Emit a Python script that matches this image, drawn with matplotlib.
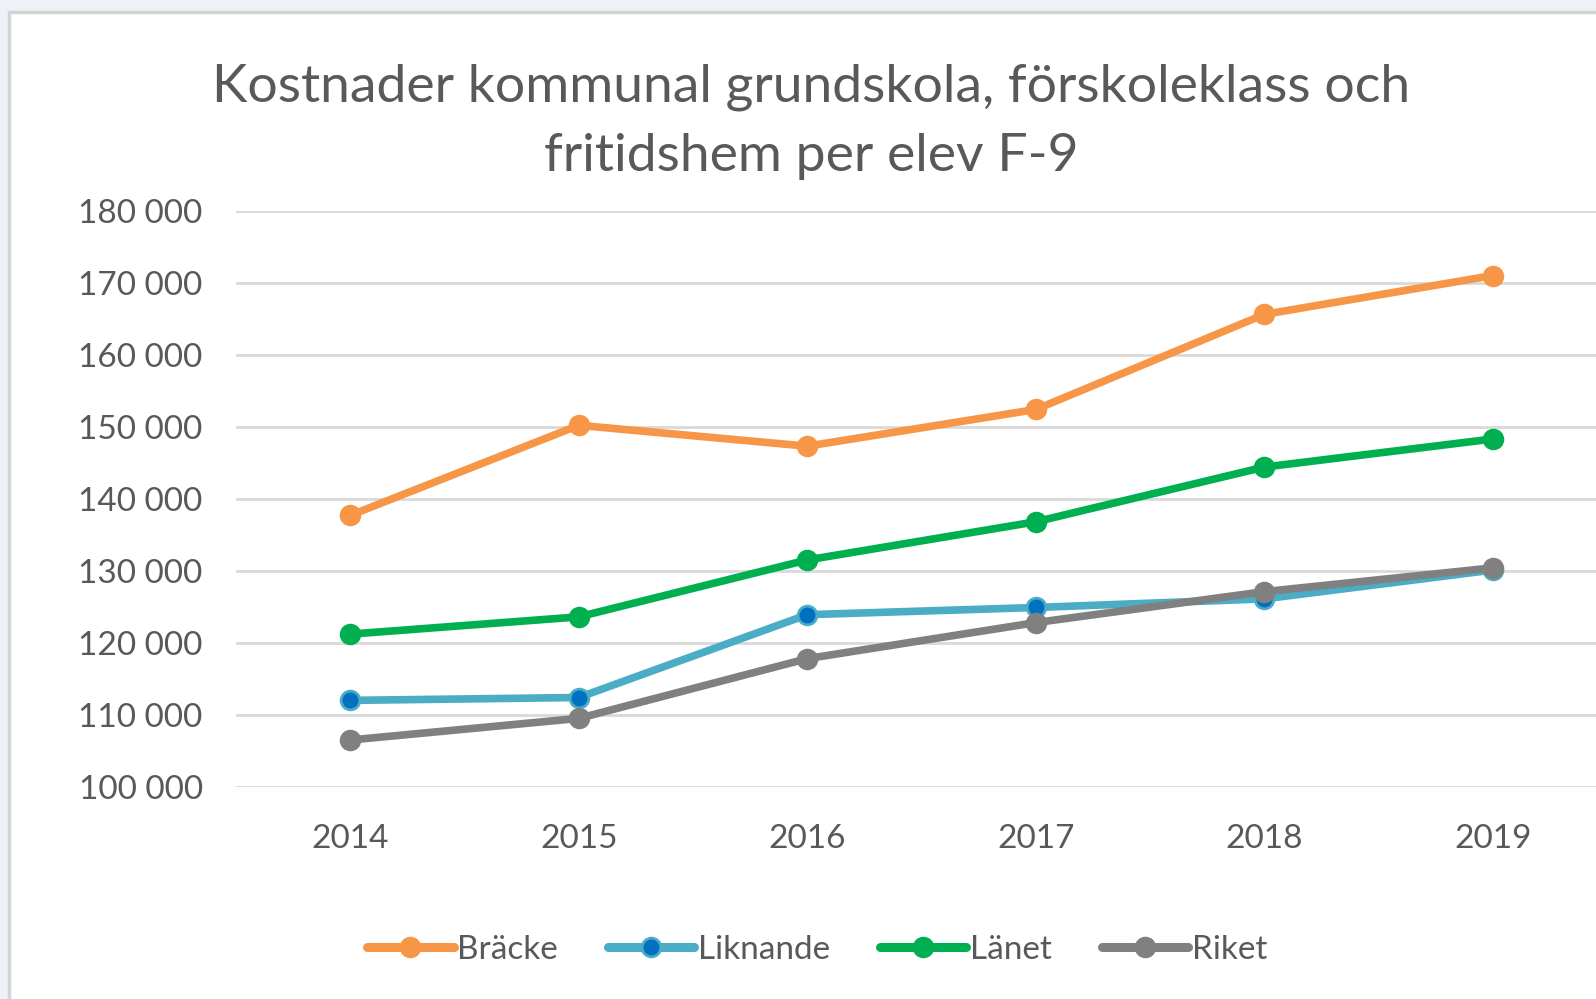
import matplotlib
matplotlib.use("Agg")
import matplotlib.pyplot as plt
from matplotlib.patches import Rectangle

years = ["2014", "2015", "2016", "2017", "2018", "2019"]
bracke = [137700, 150200, 147300, 152400, 165600, 171000]
liknande = [112000, 112400, 123900, 124900, 126100, 130100]
lanet = [121200, 123600, 131500, 136800, 144400, 148300]
riket = [106500, 109500, 117800, 122800, 127100, 130400]
yticks = [100000, 110000, 120000, 130000, 140000, 150000, 160000, 170000, 180000]
title_lines = ["Kostnader kommunal grundskola, förskoleklass och", "fritidshem per elev F-9"]

plt.rcParams['font.family'] = ['Lato', 'DejaVu Sans']
W, H = 1596, 999
fig = plt.figure(figsize=(W/100, H/100), dpi=100)
fig.patch.set_facecolor('#EEF1F7')
fig.patches.append(Rectangle((9/W, -0.05), 1.05, (H-12)/H + 0.05, transform=fig.transFigure,
                             facecolor='white', edgecolor='#D4D4D4', linewidth=2.5, zorder=-10))

ax = fig.add_axes([236/W, 1 - 786.8/H, (1607-236)/W, (786.8-210.7)/H])
ax.set_zorder(5)
ax.set_facecolor('none')
x = list(range(len(years)))
series = [
    ("Bräcke", bracke, '#F79646', '#F79646'),
    ("Liknande", liknande, '#4BACC6', '#0070C0'),
    ("Länet", lanet, '#00B050', '#00B050'),
    ("Riket", riket, '#808080', '#808080'),
]
for name, vals, lc, mc in series:
    ax.plot(x, vals, color=lc, linewidth=5.5, marker='o', markersize=13.5,
            markerfacecolor=mc, markeredgecolor=lc, markeredgewidth=2, label=name,
            solid_capstyle='round', clip_on=False)

ax.set_xlim(-0.5, 5.5)
ax.set_ylim(100000, 180000)
ax.set_yticks(yticks)
ax.set_yticklabels([f"{v:,}".replace(",", " ") for v in yticks])
ax.set_xticks(x)
ax.set_xticklabels(years)
ax.grid(axis='y', color='#D9D9D9', linewidth=2)
ax.set_axisbelow(True)
for s in ax.spines.values():
    s.set_visible(False)
ax.tick_params(axis='both', length=0, labelsize=24, colors='#595959')
ax.tick_params(axis='y', pad=24)
ax.tick_params(axis='x', pad=27)

fig.text(811/W, 1 - 87/H, title_lines[0], ha='center', va='center', fontsize=38.5, color='#595959')
fig.text(811/W, 1 - 156/H, title_lines[1], ha='center', va='center', fontsize=38.5, color='#595959')

leg = fig.legend(loc='center', bbox_to_anchor=(817/W, 1 - 950/H), ncol=4, frameon=False,
                 fontsize=24, handlelength=2.6, handletextpad=0.1, columnspacing=1.5,
                 labelcolor='#595959')
for h in leg.legend_handles:
    h.set_linewidth(6.5)

fig.savefig('out.png', dpi=100, facecolor=fig.get_facecolor())
